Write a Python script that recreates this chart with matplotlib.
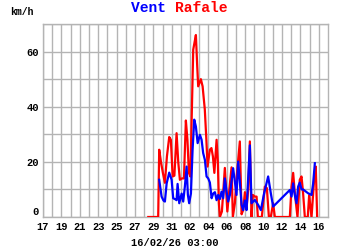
import numpy as np
import matplotlib
matplotlib.use('Agg')
import matplotlib.pyplot as plt

# days counted from 17 January
gust_day = [11.45, 12.53, 12.64, 12.83, 13.04, 13.26, 13.48, 13.73, 13.91, 14.10,
            14.29, 14.53, 14.71, 14.89, 15.11, 15.33, 15.54, 15.71, 15.87, 16.03,
            16.34, 16.52, 16.63, 16.77, 16.88, 17.17, 17.36, 17.60, 17.77, 17.90,
            18.15, 18.32, 18.48, 18.64, 18.88, 19.02, 19.13, 19.24, 19.46, 19.78,
            20.05, 20.27, 20.51, 20.65, 20.87, 21.05, 21.41, 21.60, 21.77, 21.96,
            22.14, 22.32, 22.50, 22.68, 22.83, 23.04, 23.23, 23.37, 23.80, 24.13,
            24.35, 24.57, 24.78, 25.03, 25.22, 26.85, 27.03, 27.21, 27.39, 27.68,
            27.93, 28.12, 28.29, 28.48, 28.80, 28.95, 29.21, 29.49, 29.67, 29.82]
gust_kmh = [0, 0, 24.4, 20, 16, 12.4, 22, 29, 28, 14.7,
            15, 30.4, 20, 13.5, 14, 14, 35, 28, 16, 14.7,
            60.7, 64, 66, 55, 47.4, 50, 47.4, 39, 28, 18.3,
            24.4, 25, 22, 16, 28, 20, 5, 0, 2, 17.8,
            2, 10, 18, 0, 5, 14, 27.4, 1, 2.5, 9,
            3, 10, 27.4, 0, 8, 7.4, 7.4, 0, 0, 11,
            10.5, 0, 0, 5, 0, 0, 11, 16, 8.7, 0,
            13.5, 14.7, 8.7, 0, 0, 7.9, 0, 13.5, 18.3, 0]

wind_day = [12.64, 12.90, 13.10, 13.26, 13.45, 13.73, 13.99, 14.16, 14.35, 14.53,
            14.64, 14.82, 15.08, 15.25, 15.43, 15.62, 15.76, 15.90, 16.09, 16.27,
            16.45, 16.63, 16.82, 17.07, 17.25, 17.42, 17.61, 17.79, 17.97, 18.15,
            18.34, 18.51, 18.70, 18.88, 19.05, 19.24, 19.42, 19.60, 19.78, 19.97,
            20.14, 20.33, 20.68, 20.87, 21.05, 21.23, 21.41, 21.60, 21.77, 21.96,
            22.14, 22.50, 22.68, 23.04, 23.40, 23.70, 24.05, 24.49, 24.78, 25.03,
            25.22, 26.85, 27.03, 27.21, 27.39, 27.58, 27.75, 27.93, 28.12, 28.29,
            28.84, 29.21, 29.38, 29.57]
wind_kmh = [13.5, 7.4, 6, 5.6, 12.2, 16.1, 13.5, 6.8, 6.5, 6.1,
            12, 5, 8.5, 5.6, 11, 18.3, 8, 5, 8.5, 24.4,
            35.3, 32.8, 26.8, 29.8, 28, 23.2, 20.7, 14.7, 14, 12.5,
            6.8, 8.5, 9, 6.1, 8, 6.5, 9.2, 6.8, 14, 9.2,
            5.6, 8, 17.7, 12.8, 8, 20.1, 12.8, 4.4, 2.5, 6,
            2.5, 26, 5, 6.2, 4.4, 2.5, 8.6, 14.7, 8.6, 3.8,
            4.4, 9.8, 7.4, 12.2, 8, 5, 11, 12.5, 10, 10,
            8.6, 8, 12, 19.5]

tick_days = list(range(0, 31, 2))
tick_labels = ['17', '19', '21', '23', '25', '27', '29', '31',
               '02', '04', '06', '08', '10', '12', '14', '16']
y_ticks = [0, 20, 40, 60]

mono = 'Liberation Mono'
grid_col = '#b4b4b4'

fig = plt.figure(figsize=(3.5, 2.5), dpi=100)
ax = fig.add_axes([43 / 350, 33 / 250, 285 / 350, 193 / 250])

ax.plot(gust_day, gust_kmh, color='#ff0000', lw=1.6, zorder=3)
ax.plot(wind_day, wind_kmh, color='#0000ff', lw=1.6, zorder=4)

ax.set_xlim(0, 31)
ax.set_ylim(0, 70)
ax.set_xticks(np.arange(0, 31, 1), minor=True)
ax.set_xticks(tick_days)
ax.set_xticklabels(tick_labels)
ax.set_yticks(np.arange(0, 71, 10), minor=True)
ax.set_yticks(y_ticks)
ax.set_yticklabels([str(v) for v in y_ticks])
ax.grid(True, which='both', color=grid_col, lw=1)
ax.set_axisbelow(True)
ax.tick_params(which='both', length=0, labelsize=7.5)
ax.tick_params(axis='x', pad=3.5)
ax.tick_params(axis='y', pad=3)
for lab in ax.get_xticklabels() + ax.get_yticklabels():
    lab.set_fontfamily(mono)
    lab.set_fontweight('bold')
# the zero label sits a little above the axis line
ax.get_yticklabels()[0].set_verticalalignment('bottom')
for s in ax.spines.values():
    s.set_color(grid_col)
    s.set_linewidth(1)

fig.text(10 / 350, 1 - 12 / 250, 'km/h', fontfamily=mono, fontweight='bold',
         fontsize=7, va='center', ha='left')
fig.text(175 / 350, 1 - 8 / 250, 'Vent ', color='#0000ff', fontfamily=mono,
         fontweight='bold', fontsize=10.5, ha='right', va='center')
fig.text(175 / 350, 1 - 8 / 250, 'Rafale', color='#ff0000', fontfamily=mono,
         fontweight='bold', fontsize=10.5, ha='left', va='center')
fig.text(175 / 350, 1 - 243 / 250, '16/02/26 03:00', fontfamily=mono,
         fontweight='bold', fontsize=7.5, ha='center', va='center')

fig.savefig('out.png', dpi=100)
